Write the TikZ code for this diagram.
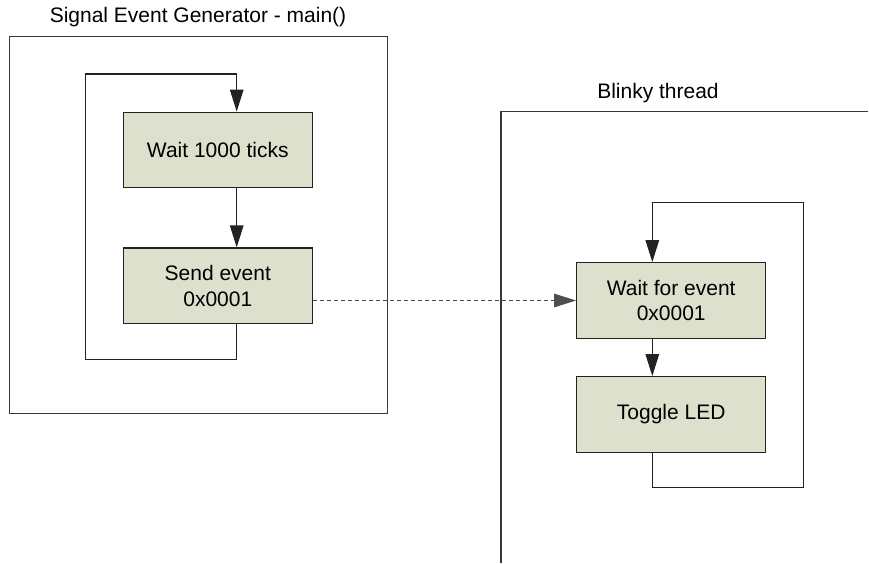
\documentclass[tikz,border=0pt]{standalone}
\usepackage{fontspec}
\setmainfont{Liberation Sans}
\usetikzlibrary{arrows.meta}
\definecolor{boxfill}{RGB}{221,224,204}
\definecolor{linec}{RGB}{34,34,34}
\begin{document}
\begin{tikzpicture}[x=1pt,y=-1pt,
  every node/.style={font=\fontsize{21}{25.6}\selectfont, text=black},
  stepbox/.style={draw=linec, line width=1.3pt, fill=boxfill, minimum width=189pt, minimum height=75.5pt, inner sep=0pt, align=center},
  frameline/.style={draw=linec!90, line width=1.3pt},
  conn/.style={draw=linec, line width=1.3pt},
  arr/.style={conn, -{Triangle[length=22pt,width=13.5pt]}},
  eventline/.style={draw=linec!80, line width=1.4pt, dash pattern=on 4pt off 3pt, -{Triangle[length=22pt,width=13.5pt]}}
]
\useasboundingbox (0,0) rectangle (869,564);
% titles
\node (t1) at (198,17) {Signal Event Generator - main()};
\node (t2) at (658,93.3) {Blinky thread};
% frames
\draw[frameline] (9.5,36.7) rectangle (387.5,413.3);
\draw[frameline] (501,563) -- (501,111.7) -- (868,111.7);
% boxes
\node[stepbox] (w1) at (217.8,150) {Wait 1000 ticks};
\node[stepbox] (s1) at (217.8,285.8) {Send event\\0x0001};
\node[stepbox] (w2) at (671.2,300.5) {Wait for event\\0x0001};
\node[stepbox] (tg) at (671.2,414.5) {Toggle LED};
% helper coordinates
\coordinate (ax1) at (236.7,0);
\coordinate (lb1) at (85.7,359.3);
\coordinate (lt1) at (85.7,74);
\coordinate (ax2) at (652.3,0);
\coordinate (lb2) at (803.3,487.7);
\coordinate (lt2) at (803.3,202.7);
% left loop
\draw[arr] (w1.south -| ax1) -- (s1.north -| ax1);
\draw[arr] (s1.south -| ax1) -- (ax1 |- lb1) -- (lb1) -- (lt1) -- (ax1 |- lt1) -- (w1.north -| ax1);
% right loop
\draw[arr] (w2.south -| ax2) -- (tg.north -| ax2);
\draw[arr] (tg.south -| ax2) -- (ax2 |- lb2) -- (lb2) -- (lt2) -- (ax2 |- lt2) -- (w2.north -| ax2);
% event signal
\draw[eventline] (s1.east |- w2.west) -- (w2.west);
\end{tikzpicture}
\end{document}
